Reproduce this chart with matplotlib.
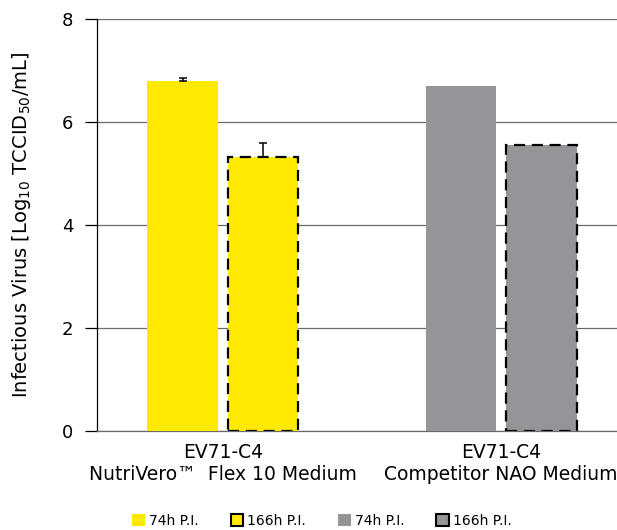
import matplotlib.pyplot as plt
from matplotlib.patches import Patch

plt.rcParams['font.family'] = ['DejaVu Sans']
plt.rcParams['mathtext.fontset'] = 'dejavusans'
plt.rcParams['mathtext.default'] = 'regular'

groups = ['EV71-C4\nNutriVero™  Flex 10 Medium', 'EV71-C4\nCompetitor NAO Medium']
vals_74 = [6.80, 6.70]
vals_166 = [5.33, 5.55]
err_74 = [0.06, 0.0]
err_166 = [0.27, 0.0]
colors = ['#FFE900', '#939598']

fig = plt.figure(figsize=(6.17, 5.30), dpi=100)
ax = fig.add_axes([97/617, 1 - 431/530, 1 - 97/617, 412/530])

x = [0, 1]
w = 0.255
off = 0.144
for i in x:
    ax.bar(i - off, vals_74[i], w, color=colors[i], zorder=3)
    ax.bar(i + off, vals_166[i], w, color=colors[i], edgecolor='black',
           linestyle=(0, (5, 3)), linewidth=1.6, zorder=3)
    if err_74[i] > 0:
        ax.errorbar(i - off, vals_74[i], yerr=[[0], [err_74[i]]], fmt='none',
                    ecolor='black', elinewidth=1.1, capsize=3, capthick=1.1, zorder=4)
    if err_166[i] > 0:
        ax.errorbar(i + off, vals_166[i], yerr=[[0], [err_166[i]]], fmt='none',
                    ecolor='black', elinewidth=1.1, capsize=3, capthick=1.1, zorder=4)

ax.set_xlim(-0.453, 1.417)
ax.set_ylim(0, 8)
ax.set_yticks([0, 2, 4, 6, 8])
ax.yaxis.grid(True, color='#6a6a6a', linewidth=0.9, zorder=0)
ax.set_axisbelow(True)
ax.set_xticks(x)
ax.set_xticklabels(groups, fontsize=13.5, linespacing=1.15)
ax.tick_params(axis='x', length=0, pad=9)
ax.tick_params(axis='y', length=9, width=0.9, labelsize=13, pad=8, direction='out')
for s in ['top', 'right']:
    ax.spines[s].set_visible(False)
ax.spines['left'].set_color('black')
ax.spines['left'].set_linewidth(0.9)
ax.spines['bottom'].set_color('#6a6a6a')
ax.spines['bottom'].set_linewidth(0.9)
ax.set_ylabel('Infectious Virus [Log$_{10}$ TCCID$_{50}$/mL]', fontsize=14, labelpad=21)

handles = [
    Patch(facecolor=colors[0], edgecolor='none', label='74h P.I.'),
    Patch(facecolor=colors[0], edgecolor='black', linewidth=1.5, label='166h P.I.'),
    Patch(facecolor=colors[1], edgecolor='none', label='74h P.I.'),
    Patch(facecolor=colors[1], edgecolor='black', linewidth=1.5, label='166h P.I.'),
]
fig.legend(handles=handles, loc='center', bbox_to_anchor=(0.522, 1 - 521/530), ncol=4,
           frameon=False, fontsize=10, handlelength=0.9, handleheight=0.9,
           handletextpad=0.3, columnspacing=2.3)

fig.savefig('out.png', dpi=100)
